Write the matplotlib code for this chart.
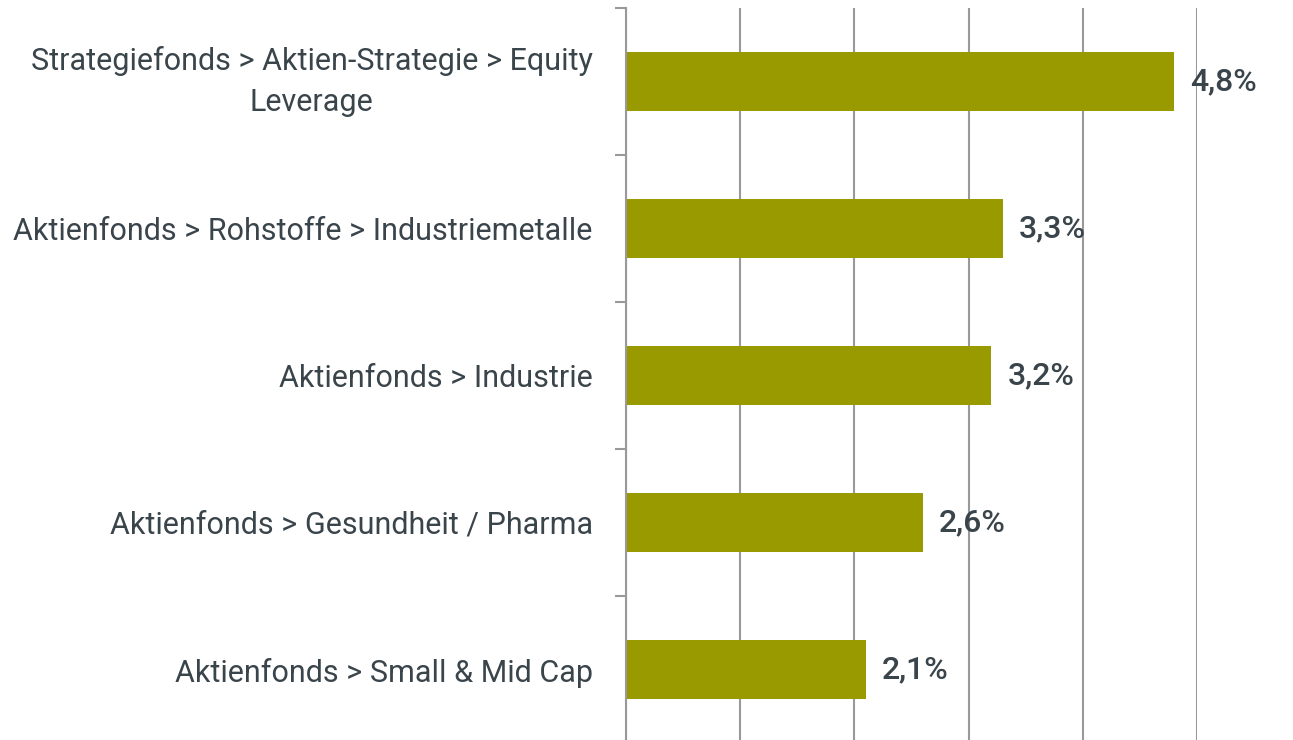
import matplotlib
matplotlib.use("Agg")
import matplotlib.pyplot as plt
from matplotlib import font_manager
import numpy as np

categories = [
    "Strategiefonds > Aktien-Strategie > Equity\nLeverage",
    "Aktienfonds > Rohstoffe > Industriemetalle",
    "Aktienfonds > Industrie",
    "Aktienfonds > Gesundheit / Pharma",
    "Aktienfonds > Small & Mid Cap",
]
values = [4.8, 3.3, 3.2, 2.6, 2.1]
value_labels = ["4,8%", "3,3%", "3,2%", "2,6%", "2,1%"]

bar_color = "#999900"
grid_color = "#999999"
text_color = "#3a444b"

names = {f.name for f in font_manager.fontManager.ttflist}
family = "Liberation Sans Narrow" if "Liberation Sans Narrow" in names else "Roboto"
plt.rcParams["font.family"] = [family, "DejaVu Sans"]

fig = plt.figure(figsize=(12.93, 7.40), dpi=100)
ax = fig.add_axes([626 / 1293, -3 / 740, 571 / 1293, 735 / 740])

y = np.arange(len(categories))
ax.barh(y, values, height=0.4, color=bar_color, zorder=3)

ax.set_xlim(0, 5)
ax.set_ylim(len(categories) - 0.5, -0.5)

ax.set_xticks(np.arange(0, 6, 1))
ax.grid(axis="x", color=grid_color, linewidth=1.5, zorder=0)
ax.tick_params(axis="x", length=0, labelbottom=False)

ax.set_yticks(y)
ax.set_yticklabels(categories, fontsize=22, color=text_color)
for lbl in ax.get_yticklabels():
    lbl.set_multialignment("center")
    if "\n" in lbl.get_text():
        lbl.set_linespacing(1.5)
        lbl.set_verticalalignment("center")
ax.tick_params(axis="y", which="major", length=0, pad=24)
ax.set_yticks(np.arange(-0.5, len(categories)), minor=True)
ax.tick_params(axis="y", which="minor", length=8, width=1.5, color=grid_color)

for s in ["top", "right", "bottom"]:
    ax.spines[s].set_visible(False)
ax.spines["left"].set_color(grid_color)
ax.spines["left"].set_linewidth(1.5)
ax.spines["left"].set_zorder(4)

for yi, v, lab in zip(y, values, value_labels):
    ax.text(v + 0.14, yi, lab, va="center", ha="left", fontsize=23,
            fontweight="medium", color=text_color, clip_on=False, zorder=5)

fig.savefig("out.png", dpi=100)
